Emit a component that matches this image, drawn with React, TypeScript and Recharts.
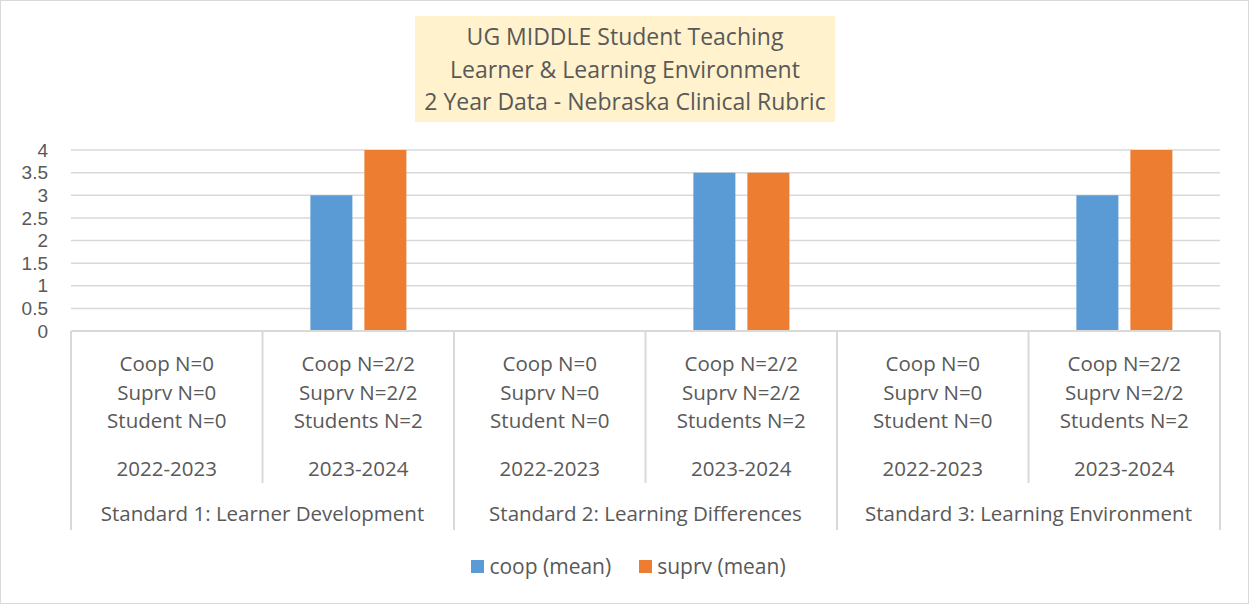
import React from "react";
import { BarChart, Bar, XAxis, YAxis, CartesianGrid, Legend } from "recharts";

const standards = [
  "Standard 1: Learner Development",
  "Standard 2: Learning Differences",
  "Standard 3: Learning Environment",
];
const years = ["2022-2023", "2023-2024", "2022-2023", "2023-2024", "2022-2023", "2023-2024"];
const coopLabels = ["Coop N=0", "Coop N=2/2", "Coop N=0", "Coop N=2/2", "Coop N=0", "Coop N=2/2"];
const suprvLabels = ["Suprv N=0", "Suprv N=2/2", "Suprv N=0", "Suprv N=2/2", "Suprv N=0", "Suprv N=2/2"];
const studentLabels = ["Student N=0", "Students N=2", "Student N=0", "Students N=2", "Student N=0", "Students N=2"];
const coopMean = [null, 3, null, 3.5, null, 3];
const suprvMean = [null, 4, null, 3.5, null, 4];
const yTicks = [0, 0.5, 1, 1.5, 2, 2.5, 3, 3.5, 4];
const titleLines = [
  "UG MIDDLE Student Teaching",
  "Learner & Learning Environment",
  "2 Year Data - Nebraska Clinical Rubric",
];

const W = 1249;
const H = 604;
const M = { top: 150, right: 29, left: 11, bottom: 30 };
const Y_AXIS_W = 60;
const X_AXIS_H = 200;
const BAND = (W - M.left - Y_AXIS_W - M.right) / years.length;

const FONT = "'Open Sans', sans-serif";
const TEXT = "#595959";
const GRID = "#d9d9d9";
const BLUE = "#5b9bd5";
const ORANGE = "#ed7d31";

const data = years.map((year, i) => ({
  key: `${i}`,
  group: standards[Math.floor(i / 2)],
  year,
  coop: coopLabels[i],
  suprv: suprvLabels[i],
  student: studentLabels[i],
  coopMean: coopMean[i],
  suprvMean: suprvMean[i],
}));

// multi-level category label: N counts, year, and the standard under each pair
function CategoryTick(props: any) {
  const { x, y, payload } = props;
  const i = Number(payload.value);
  const d = data[i];
  const half = BAND / 2;
  const isFirst = i % 2 === 0;
  const txt = { fill: TEXT, fontSize: 20.5, fontFamily: FONT, textAnchor: "middle" as const, dominantBaseline: "central" as const };
  return (
    <g>
      <line x1={x - half} x2={x - half} y1={y} y2={y + (isFirst ? 199 : 152)} stroke={GRID} strokeWidth={2} />
      {i === data.length - 1 && (
        <line x1={x + half} x2={x + half} y1={y} y2={y + 199} stroke={GRID} strokeWidth={2} />
      )}
      <text x={x} y={y + 32} {...txt}>{d.coop}</text>
      <text x={x} y={y + 61} {...txt}>{d.suprv}</text>
      <text x={x} y={y + 89} {...txt}>{d.student}</text>
      <text x={x} y={y + 137} {...txt}>{d.year}</text>
      {isFirst && (
        <text x={x + half} y={y + 182} {...txt}>{d.group}</text>
      )}
    </g>
  );
}

function LegendContent() {
  const items = [
    { label: "coop (mean)", color: BLUE },
    { label: "suprv (mean)", color: ORANGE },
  ];
  return (
    <div style={{ height: 43, display: "flex", justifyContent: "center", alignItems: "flex-end", gap: 28, fontFamily: FONT, fontSize: 21, color: TEXT, paddingLeft: 26 }}>
      {items.map((it) => (
        <div key={it.label} style={{ display: "flex", alignItems: "center", gap: 5, height: 16 }}>
          <span style={{ width: 13, height: 13, background: it.color, display: "inline-block" }} />
          <span>{it.label}</span>
        </div>
      ))}
    </div>
  );
}

export default function App() {
  return (
    <div style={{ position: "absolute", left: 0, top: 0, width: W, height: H, background: "#fff" }}>
      <div style={{ position: "absolute", inset: 0, border: `1px solid ${GRID}`, boxSizing: "border-box", pointerEvents: "none", zIndex: 2 }} />
      <BarChart
        width={W}
        height={H}
        data={data}
        margin={M}
        barCategoryGap="25%"
        barGap={12}
      >
        <CartesianGrid horizontal vertical={false} stroke={GRID} strokeWidth={1.5} />
        <XAxis
          dataKey="key"
          height={X_AXIS_H}
          interval={0}
          tickLine={false}
          tickSize={0}
          tickMargin={0}
          axisLine={{ stroke: GRID, strokeWidth: 2 }}
          tick={<CategoryTick />}
        />
        <YAxis
          width={Y_AXIS_W}
          domain={[0, 4]}
          ticks={yTicks}
          interval={0}
          axisLine={false}
          tickLine={false}
          tickSize={0}
          tickMargin={23}
          tick={{ fill: TEXT, fontSize: 19, fontFamily: "'Liberation Sans', Arial, sans-serif" }}
        />
        <Legend verticalAlign="bottom" content={<LegendContent />} />
        <Bar dataKey="coopMean" name="coop (mean)" fill={BLUE} isAnimationActive={false} />
        <Bar dataKey="suprvMean" name="suprv (mean)" fill={ORANGE} isAnimationActive={false} />
      </BarChart>
      <div
        style={{
          position: "absolute",
          left: 415,
          top: 16,
          width: 420,
          height: 106,
          background: "#fff2cc",
          color: TEXT,
          fontFamily: FONT,
          fontSize: 23,
          lineHeight: "32.5px",
          textAlign: "center",
          display: "flex",
          flexDirection: "column",
          justifyContent: "center",
        }}
      >
        {titleLines.map((t) => (
          <div key={t}>{t}</div>
        ))}
      </div>
    </div>
  );
}
